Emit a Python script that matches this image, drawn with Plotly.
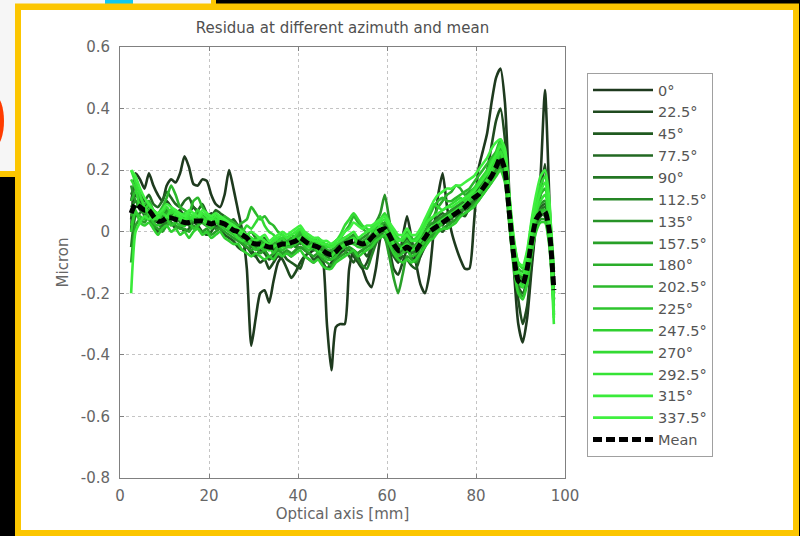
import plotly.graph_objects as go

# ---------------------------------------------------------------- data
optical_axis_mm = [
    2.5, 3.5, 4.5, 5.5, 6.5, 7.5, 8.5, 9.5, 10.5, 11.5, 12.5, 13.5,
    14.5, 15.5, 16.5, 17.5, 18.5, 19.5, 20.5, 21.5, 22.5, 23.5, 24.5, 25.5,
    26.5, 27.5, 28.5, 29.5, 30.5, 31.5, 32.5, 33.5, 34.5, 35.5, 36.5, 37.5,
    38.5, 39.5, 40.5, 41.5, 42.5, 43.5, 44.5, 45.5, 46.5, 47.5, 48.5, 49.5,
    50.5, 51.5, 52.5, 53.5, 54.5, 55.5, 56.5, 57.5, 58.5, 59.5, 60.5, 61.5,
    62.5, 63.5, 64.5, 65.5, 66.5, 67.5, 68.5, 69.5, 70.5, 71.5, 72.5, 73.5,
    74.5, 75.5, 76.5, 77.5, 78.5, 79.5, 80.5, 81.5, 82.5, 83.5, 84.5, 85.5,
    86.5, 87.5, 88.5, 89.5, 90.5, 91.5, 92.5, 93.5, 94.5, 95.5, 96.5, 97.5,
]

azimuth_labels = ["0°", "22.5°", "45°", "77.5°", "90°", "112.5°", "135°", "157.5°",
                  "180°", "202.5°", "225°", "247.5°", "270°", "292.5°", "315°", "337.5°"]

res_000 = [0.0, 0.19, 0.17, 0.14, 0.19, 0.15, 0.12, 0.1, 0.15, 0.17, 0.16, 0.19,
           0.245, 0.21, 0.155, 0.15, 0.17, 0.165, 0.12, 0.09, 0.08, 0.12, 0.2, 0.14,
           0.07, 0.0, -0.12, -0.37, -0.28, -0.2, -0.19, -0.23, -0.16, -0.1, -0.08, -0.07,
           -0.08, -0.06, -0.05, -0.06, -0.07, -0.06, -0.06, -0.08, -0.3, -0.45, -0.31, -0.3,
           -0.3, -0.12, -0.06, -0.08, -0.12, -0.16, -0.18, -0.12, -0.02, 0.02, 0.0, -0.06,
           -0.1, -0.02, 0.05, -0.02, -0.1, -0.17, -0.2, -0.14, 0.0, 0.12, 0.19, 0.08,
           0.0, -0.05, -0.09, -0.12, -0.12, 0.02, 0.2, 0.26, 0.32, 0.42, 0.5, 0.53,
           0.42, 0.12, -0.12, -0.3, -0.36, -0.28, -0.12, 0.03, 0.18, 0.46, 0.1, -0.27]
res_225 = [0.1, 0.16, 0.12, 0.08, 0.1, 0.06, 0.05, 0.07, 0.1, 0.08, 0.06, 0.07,
           0.05, 0.06, 0.08, 0.06, 0.04, 0.05, 0.06, 0.04, 0.03, 0.02, 0.03, 0.01,
           -0.02, -0.04, -0.05, -0.06, -0.08, -0.1, -0.09, -0.12, -0.1, -0.08, -0.09, -0.12,
           -0.15, -0.13, -0.1, -0.08, -0.09, -0.1, -0.08, -0.1, -0.12, -0.1, -0.08, -0.06,
           -0.05, -0.06, -0.08, -0.1, -0.12, -0.1, -0.06, -0.02, 0.0, 0.03, -0.05, -0.12,
           -0.14, -0.1, -0.06, -0.08, -0.1, -0.08, -0.04, 0.0, 0.02, 0.03, 0.05, 0.04,
           0.06, 0.07, 0.06, 0.08, 0.1, 0.12, 0.13, 0.15, 0.2, 0.28, 0.36, 0.4,
           0.3, 0.1, -0.08, -0.22, -0.3, -0.24, -0.1, 0.03, 0.12, 0.22, 0.05, -0.22]
res_450 = [0.04, 0.12, 0.1, 0.05, 0.04, 0.02, 0.0, 0.02, 0.05, 0.03, 0.01, 0.02,
           0.0, 0.01, 0.03, 0.02, 0.0, -0.01, 0.0, 0.02, 0.01, -0.01, -0.02, -0.03,
           -0.05, -0.06, -0.05, -0.07, -0.08, -0.06, -0.07, -0.09, -0.08, -0.06, -0.07, -0.09,
           -0.1, -0.11, -0.12, -0.08, -0.07, -0.09, -0.08, -0.1, -0.12, -0.11, -0.09, -0.07,
           -0.06, -0.08, -0.1, -0.07, -0.06, -0.08, -0.05, -0.02, 0.0, -0.02, -0.05, -0.08,
           -0.1, -0.08, -0.09, -0.11, -0.12, -0.08, -0.05, -0.02, 0.0, 0.01, 0.0, 0.02,
           0.03, 0.04, 0.06, 0.05, 0.08, 0.1, 0.11, 0.13, 0.15, 0.17, 0.2, 0.22,
           0.18, 0.04, -0.1, -0.18, -0.2, -0.15, -0.05, 0.02, 0.05, 0.06, -0.03, -0.22]
res_775 = [0.12, 0.15, 0.13, 0.1, 0.12, 0.09, 0.08, 0.1, 0.13, 0.11, 0.09, 0.08,
           0.1, 0.11, 0.08, 0.07, 0.09, 0.06, 0.05, 0.07, 0.06, 0.05, 0.03, 0.04,
           0.02, 0.01, -0.01, 0.0, -0.02, -0.03, -0.02, -0.04, -0.03, -0.02, -0.03, -0.05,
           -0.03, -0.02, 0.0, -0.02, -0.04, -0.03, -0.05, -0.04, -0.06, -0.07, -0.05, -0.03,
           -0.02, -0.03, -0.01, -0.03, -0.05, -0.04, -0.01, 0.02, 0.03, 0.02, 0.0, -0.03,
           -0.05, -0.04, -0.02, -0.04, -0.05, -0.03, 0.0, 0.02, 0.03, 0.05, 0.06, 0.05,
           0.07, 0.08, 0.09, 0.1, 0.12, 0.13, 0.14, 0.16, 0.18, 0.2, 0.23, 0.26,
           0.22, 0.08, -0.06, -0.14, -0.15, -0.1, 0.0, 0.06, 0.08, 0.09, 0.02, -0.17]
res_900 = [-0.05, 0.05, 0.06, 0.08, 0.05, 0.03, 0.04, 0.02, 0.04, 0.06, 0.03, 0.05,
           0.04, 0.02, 0.05, 0.03, 0.06, 0.04, 0.02, 0.04, 0.05, 0.03, 0.02, 0.0,
           0.01, -0.01, -0.03, -0.02, -0.05, -0.03, -0.06, -0.04, -0.06, -0.03, -0.05, -0.03,
           -0.05, -0.02, -0.04, -0.01, -0.05, -0.04, -0.06, -0.05, -0.08, -0.06, -0.07, -0.04,
           -0.05, -0.03, -0.04, -0.02, -0.05, -0.03, -0.02, 0.01, 0.0, 0.02, -0.02, -0.03,
           -0.07, -0.05, -0.04, -0.07, -0.05, -0.04, -0.01, 0.01, 0.0, 0.03, 0.02, 0.05,
           0.04, 0.07, 0.06, 0.09, 0.08, 0.11, 0.12, 0.13, 0.17, 0.18, 0.2, 0.25,
           0.19, 0.05, -0.09, -0.17, -0.18, -0.13, -0.02, 0.05, 0.07, 0.08, 0.01, -0.2]
res_1125 = [0.08, 0.1, 0.07, 0.06, 0.05, 0.04, 0.03, 0.01, 0.03, 0.04, 0.05, 0.03,
            0.02, 0.04, 0.03, 0.05, 0.03, 0.02, 0.03, 0.01, 0.02, 0.03, 0.01, 0.0,
            -0.01, -0.02, -0.03, -0.05, -0.04, -0.05, -0.04, -0.06, -0.05, -0.06, -0.04, -0.05,
            -0.04, -0.05, -0.03, -0.05, -0.04, -0.06, -0.05, -0.07, -0.08, -0.09, -0.07, -0.06,
            -0.05, -0.06, -0.07, -0.09, -0.11, -0.12, -0.08, -0.04, -0.01, 0.0, -0.03, -0.05,
            -0.07, -0.06, -0.05, -0.06, -0.08, -0.05, -0.03, -0.01, 0.01, 0.02, 0.03, 0.03,
            0.05, 0.05, 0.07, 0.07, 0.09, 0.1, 0.12, 0.13, 0.15, 0.18, 0.2, 0.23,
            0.2, 0.06, -0.08, -0.15, -0.16, -0.11, -0.03, 0.03, 0.06, 0.05, -0.02, -0.18]
res_1350 = [0.15, 0.1, 0.09, 0.07, 0.08, 0.06, 0.04, 0.05, 0.07, 0.05, 0.04, 0.05,
            0.03, 0.05, 0.04, 0.03, 0.05, 0.04, 0.03, 0.04, 0.05, 0.03, 0.02, 0.01,
            0.0, -0.02, -0.01, -0.03, -0.04, -0.03, -0.05, -0.04, -0.05, -0.04, -0.03, -0.04,
            -0.03, -0.04, -0.02, -0.03, -0.05, -0.04, -0.05, -0.06, -0.06, -0.07, -0.06, -0.05,
            -0.03, -0.02, -0.01, -0.03, -0.02, -0.01, 0.01, 0.03, 0.06, 0.12, 0.04, -0.03,
            -0.05, -0.06, -0.04, -0.05, -0.06, -0.03, -0.01, 0.02, 0.03, 0.04, 0.05, 0.06,
            0.07, 0.08, 0.09, 0.11, 0.12, 0.13, 0.15, 0.16, 0.19, 0.21, 0.24, 0.28,
            0.23, 0.09, -0.05, -0.13, -0.15, -0.1, -0.01, 0.06, 0.09, 0.1, 0.03, -0.16]
res_1575 = [-0.1, 0.02, 0.04, 0.03, 0.05, 0.02, 0.01, 0.0, 0.02, 0.03, 0.02, 0.01,
            0.01, 0.0, 0.02, 0.01, 0.0, 0.01, -0.01, 0.0, 0.01, 0.0, -0.01, -0.02,
            -0.03, -0.04, -0.05, -0.06, -0.05, -0.07, -0.06, -0.08, -0.07, -0.06, -0.07, -0.06,
            -0.07, -0.06, -0.05, -0.06, -0.07, -0.08, -0.07, -0.09, -0.1, -0.11, -0.09, -0.08,
            -0.07, -0.05, -0.06, -0.07, -0.06, -0.05, -0.04, -0.02, -0.01, -0.02, -0.08, -0.15,
            -0.2, -0.14, -0.08, -0.09, -0.1, -0.07, -0.04, -0.02, -0.01, 0.0, 0.01, 0.02,
            0.03, 0.04, 0.05, 0.06, 0.07, 0.09, 0.1, 0.12, 0.14, 0.16, 0.19, 0.21,
            0.17, 0.03, -0.11, -0.19, -0.21, -0.16, -0.06, 0.01, 0.04, 0.04, -0.04, -0.24]
res_1800 = [0.05, 0.08, 0.09, 0.06, 0.07, 0.05, 0.06, 0.04, 0.06, 0.07, 0.05, 0.04,
            0.05, 0.03, 0.04, 0.06, 0.04, 0.05, 0.03, 0.04, 0.03, 0.04, 0.02, 0.02,
            0.0, 0.01, -0.02, -0.03, -0.02, -0.04, -0.03, -0.05, -0.04, -0.03, -0.02, -0.03,
            -0.02, -0.03, -0.01, -0.02, -0.03, -0.04, -0.04, -0.05, -0.06, -0.06, -0.05, -0.04,
            -0.03, -0.02, -0.02, -0.03, -0.03, -0.02, -0.01, 0.01, 0.02, 0.03, 0.01, -0.02,
            -0.04, -0.05, -0.03, -0.05, -0.04, -0.02, 0.0, 0.03, 0.05, 0.08, 0.1, 0.12,
            0.13, 0.15, 0.14, 0.12, 0.13, 0.14, 0.15, 0.17, 0.19, 0.21, 0.24, 0.27,
            0.23, 0.08, -0.07, -0.15, -0.16, -0.11, -0.02, 0.05, 0.07, 0.07, 0.0, -0.2]
res_2025 = [0.1, 0.13, 0.11, 0.09, 0.1, 0.07, 0.06, 0.08, 0.11, 0.15, 0.12, 0.08,
            0.07, 0.06, 0.1, 0.11, 0.08, 0.06, 0.05, 0.06, 0.04, 0.05, 0.04, 0.03,
            0.02, 0.03, 0.04, 0.08, 0.06, 0.04, 0.05, 0.03, 0.02, 0.0, -0.01, -0.02,
            -0.01, -0.02, 0.0, -0.01, -0.02, -0.03, -0.02, -0.04, -0.05, -0.05, -0.03, -0.02,
            0.0, 0.02, 0.05, 0.03, 0.01, 0.0, 0.01, 0.03, 0.04, 0.05, 0.02, -0.01,
            -0.03, -0.02, 0.0, -0.02, -0.03, -0.01, 0.02, 0.05, 0.08, 0.1, 0.11, 0.1,
            0.1, 0.11, 0.12, 0.13, 0.14, 0.16, 0.18, 0.2, 0.22, 0.24, 0.26, 0.3,
            0.25, 0.1, -0.04, -0.12, -0.13, -0.08, 0.02, 0.08, 0.12, 0.14, 0.05, -0.14]
res_2250 = [0.02, 0.06, 0.05, 0.04, 0.06, 0.03, 0.02, 0.03, 0.04, 0.02, 0.03, 0.02,
            0.02, 0.03, 0.01, 0.02, 0.03, 0.02, 0.01, 0.03, 0.02, 0.01, 0.0, -0.01,
            -0.02, -0.03, -0.04, -0.04, -0.06, -0.05, -0.06, -0.05, -0.07, -0.05, -0.06, -0.05,
            -0.05, -0.04, -0.03, -0.05, -0.06, -0.05, -0.07, -0.08, -0.09, -0.09, -0.08, -0.06,
            -0.05, -0.04, -0.04, -0.05, -0.05, -0.04, -0.03, -0.01, 0.0, 0.0, -0.02, -0.05,
            -0.08, -0.07, -0.06, -0.08, -0.07, -0.05, -0.03, -0.01, 0.0, 0.01, 0.03, 0.04,
            0.05, 0.06, 0.08, 0.08, 0.1, 0.11, 0.12, 0.14, 0.16, 0.19, 0.22, 0.25,
            0.21, 0.07, -0.08, -0.16, -0.17, -0.12, -0.03, 0.04, 0.06, 0.07, -0.01, -0.2]
res_2475 = [0.0, 0.07, 0.03, 0.02, 0.03, 0.01, -0.01, 0.01, 0.02, 0.0, 0.01, -0.01,
            0.0, -0.02, 0.0, 0.01, -0.01, 0.0, -0.02, -0.01, 0.0, -0.02, -0.03, -0.04,
            -0.04, -0.06, -0.07, -0.08, -0.07, -0.08, -0.09, -0.08, -0.09, -0.07, -0.08, -0.07,
            -0.08, -0.07, -0.06, -0.08, -0.09, -0.1, -0.09, -0.11, -0.12, -0.12, -0.1, -0.09,
            -0.08, -0.07, -0.06, -0.08, -0.07, -0.06, -0.05, -0.03, -0.02, -0.01, -0.04, -0.07,
            -0.09, -0.1, -0.09, -0.1, -0.09, -0.07, -0.05, -0.03, -0.02, 0.0, 0.01, 0.01,
            0.02, 0.03, 0.05, 0.06, 0.07, 0.08, 0.1, 0.12, 0.14, 0.16, 0.18, 0.2,
            0.16, 0.02, -0.12, -0.2, -0.22, -0.17, -0.07, 0.0, 0.03, 0.03, -0.05, -0.26]
res_2700 = [0.17, 0.14, 0.08, 0.07, 0.09, 0.05, 0.04, 0.06, 0.08, 0.06, 0.07, 0.05,
            0.06, 0.04, 0.05, 0.07, 0.05, 0.04, 0.05, 0.03, 0.05, 0.04, 0.03, 0.02,
            0.01, 0.0, 0.02, 0.01, 0.03, 0.05, 0.02, 0.0, -0.01, -0.03, -0.02, -0.04,
            -0.03, -0.01, 0.01, -0.02, -0.03, -0.02, -0.04, -0.03, -0.05, -0.04, -0.03, -0.01,
            0.02, 0.04, 0.06, 0.04, 0.02, 0.01, 0.0, 0.02, 0.04, 0.06, 0.03, 0.0,
            -0.02, -0.03, -0.01, -0.03, -0.02, 0.0, 0.03, 0.06, 0.09, 0.08, 0.07, 0.08,
            0.09, 0.1, 0.11, 0.1, 0.12, 0.14, 0.16, 0.18, 0.2, 0.23, 0.25, 0.29,
            0.26, 0.11, -0.03, -0.1, -0.12, -0.07, 0.03, 0.1, 0.15, 0.18, 0.08, -0.12]
res_2925 = [0.2, 0.16, 0.12, 0.08, 0.06, 0.04, 0.05, 0.06, 0.05, 0.07, 0.06, 0.04,
            0.03, 0.05, 0.04, 0.03, 0.04, 0.03, 0.02, 0.04, 0.03, 0.02, 0.01, 0.0,
            -0.02, -0.03, -0.02, -0.04, -0.03, -0.05, -0.04, -0.06, -0.05, -0.04, -0.05, -0.04,
            -0.04, -0.03, -0.02, -0.04, -0.05, -0.04, -0.06, -0.07, -0.07, -0.08, -0.06, -0.05,
            -0.04, -0.03, -0.02, -0.04, -0.04, -0.03, -0.02, 0.0, 0.02, 0.01, -0.01, -0.04,
            -0.06, -0.05, -0.04, -0.06, -0.05, -0.03, -0.01, 0.01, 0.02, 0.03, 0.04, 0.05,
            0.06, 0.07, 0.08, 0.09, 0.11, 0.12, 0.13, 0.15, 0.17, 0.2, 0.23, 0.26,
            0.21, 0.07, -0.07, -0.16, -0.18, -0.12, -0.02, 0.06, 0.1, 0.12, 0.02, -0.22]
res_3150 = [-0.2, 0.0, 0.03, 0.05, 0.04, 0.06, 0.05, 0.03, 0.05, 0.04, 0.06, 0.05,
            0.04, 0.06, 0.05, 0.04, 0.06, 0.05, 0.04, 0.05, 0.04, 0.03, 0.02, 0.01,
            0.0, -0.01, -0.01, -0.02, -0.03, -0.02, -0.03, -0.04, -0.03, -0.02, -0.01, -0.02,
            -0.01, 0.0, 0.01, -0.01, -0.02, -0.03, -0.03, -0.04, -0.04, -0.05, -0.04, -0.03,
            -0.02, -0.01, 0.0, -0.02, -0.01, 0.0, 0.01, 0.02, 0.03, 0.04, 0.02, -0.01,
            -0.03, -0.02, -0.01, -0.03, -0.03, -0.01, 0.02, 0.04, 0.05, 0.06, 0.07, 0.08,
            0.08, 0.09, 0.1, 0.11, 0.12, 0.13, 0.15, 0.17, 0.19, 0.22, 0.25, 0.28,
            0.25, 0.1, -0.05, -0.13, -0.14, -0.09, 0.01, 0.08, 0.13, 0.16, 0.0, -0.3]
res_3375 = [0.2, 0.18, 0.14, 0.11, 0.09, 0.07, 0.06, 0.07, 0.09, 0.08, 0.07, 0.06,
            0.05, 0.07, 0.06, 0.05, 0.07, 0.06, 0.05, 0.06, 0.05, 0.04, 0.03, 0.02,
            0.01, 0.0, -0.01, 0.0, -0.01, -0.02, -0.01, -0.03, -0.02, -0.01, 0.0, -0.01,
            0.0, 0.01, 0.02, 0.0, -0.01, -0.02, -0.02, -0.03, -0.03, -0.04, -0.03, -0.02,
            0.0, 0.01, 0.03, 0.02, 0.01, 0.02, 0.02, 0.03, 0.04, 0.05, 0.03, 0.01,
            -0.01, -0.01, 0.01, -0.01, -0.01, 0.01, 0.04, 0.07, 0.1, 0.12, 0.13, 0.14,
            0.14, 0.15, 0.15, 0.16, 0.17, 0.18, 0.2, 0.22, 0.24, 0.27, 0.29, 0.3,
            0.27, 0.12, -0.02, -0.1, -0.11, -0.06, 0.04, 0.12, 0.18, 0.2, 0.1, -0.28]

mean_residua = [0.06, 0.09, 0.08, 0.07, 0.07, 0.05, 0.035, 0.035, 0.045, 0.045, 0.04, 0.035,
                0.03, 0.03, 0.035, 0.035, 0.035, 0.03, 0.025, 0.03, 0.03, 0.025, 0.015, 0.005,
                0.0, -0.01, -0.02, -0.035, -0.04, -0.04, -0.045, -0.05, -0.05, -0.045, -0.04, -0.04,
                -0.035, -0.03, -0.02, -0.03, -0.04, -0.045, -0.05, -0.06, -0.07, -0.075, -0.065, -0.05,
                -0.04, -0.035, -0.03, -0.035, -0.04, -0.035, -0.02, -0.005, 0.005, 0.01, -0.01, -0.04,
                -0.06, -0.06, -0.05, -0.06, -0.06, -0.04, -0.02, 0.0, 0.01, 0.02, 0.03, 0.04,
                0.05, 0.06, 0.07, 0.08, 0.095, 0.11, 0.12, 0.14, 0.16, 0.18, 0.21, 0.24,
                0.2, 0.06, -0.08, -0.16, -0.17, -0.12, -0.03, 0.04, 0.06, 0.065, 0.0, -0.19]

residua = [res_000, res_225, res_450, res_775, res_900, res_1125, res_1350, res_1575,
           res_1800, res_2025, res_2250, res_2475, res_2700, res_2925, res_3150, res_3375]

y_ticks = [-0.8, -0.6, -0.4, -0.2, 0, 0.2, 0.4, 0.6]
y_tick_text = ["-0.8", "-0.6", "-0.4", "-0.2", "0", "0.2", "0.4", "0.6"]
x_ticks = [0, 20, 40, 60, 80, 100]

# ---------------------------------------------------------------- style
greens = ["#1e3a1e", "#1f4a1f", "#205a20", "#226822", "#237623", "#258525",
          "#279327", "#28a028", "#2aad2a", "#2cb92c", "#2ec52e", "#30d030",
          "#33da33", "#36e336", "#3aeb3a", "#40f040"]

W, H = 800, 536
ML, MR, MT, MB = 120, 235, 47, 58
PW, PH = W - ML - MR, H - MT - MB
FONT = "DejaVu Sans"


def px_x(px):
    return (px - ML) / PW


def px_y(py):
    return (H - MB - py) / PH


def box(x0, y0, x1, y1, color, kind="rect"):
    return dict(type=kind, xref="paper", yref="paper", layer="below",
                x0=px_x(x0), x1=px_x(x1), y0=px_y(y1), y1=px_y(y0),
                fillcolor=color, line=dict(width=0))


fig = go.Figure()

for label, vals, col in zip(azimuth_labels, residua, greens):
    fig.add_trace(go.Scatter(
        x=optical_axis_mm, y=vals, mode="lines", name=label,
        line=dict(color=col, width=2.6, shape="spline", smoothing=0.6)))

fig.add_trace(go.Scatter(
    x=optical_axis_mm, y=mean_residua, mode="lines", name="Mean",
    line=dict(color="black", width=5, dash="9px,4px", shape="spline", smoothing=0.6)))

# window frame and the desktop around it
shapes = [
    box(0, 0, 216, 177, "#fcc600"),
    box(0, 0, 211, 171, "#f6f6f6"),
    box(105, 0, 133, 4, "#10c8f0"),
    box(-14, 96, 4, 146, "#ff3c00", "circle"),
    box(15, 3.5, 799, 536, "#fcc600"),
    box(21, 10, 793, 530, "#ffffff"),
]

axis_common = dict(
    showline=True, linecolor="#808080", linewidth=1, mirror="ticks",
    ticks="inside", ticklen=4, tickcolor="#808080",
    showgrid=True, gridcolor="#c4c4c4", griddash="dot", gridwidth=1,
    zeroline=False, tickfont=dict(family=FONT, size=15, color="#666666"),
)

fig.update_layout(
    width=W, height=H, autosize=False,
    margin=dict(l=ML, r=MR, t=MT, b=MB, pad=0),
    paper_bgcolor="#000000", plot_bgcolor="#ffffff",
    shapes=shapes,
    title=dict(text="Residua at different azimuth and mean",
               font=dict(family=FONT, size=15, color="#505050"),
               x=0.5, xref="paper", xanchor="center",
               y=1 - 28 / H, yref="container", yanchor="middle"),
    xaxis=dict(range=[0, 100], tickvals=x_ticks,
               title=dict(text="Optical axis [mm]", standoff=4,
                          font=dict(family=FONT, size=15, color="#666666")),
               ticklabelstandoff=4, **axis_common),
    yaxis=dict(range=[-0.8, 0.6], tickvals=y_ticks, ticktext=y_tick_text,
               title=dict(text="Micron", standoff=8,
                          font=dict(family=FONT, size=15, color="#666666")),
               ticklabelstandoff=6, **axis_common),
    legend=dict(x=px_x(587), y=px_y(73), xanchor="left", yanchor="top",
                bgcolor="#ffffff", bordercolor="#a0a0a0", borderwidth=1,
                font=dict(family=FONT, size=14.5, color="#555555"),
                itemwidth=60, tracegroupgap=0),
    showlegend=True,
)

fig.write_html("out.html")
